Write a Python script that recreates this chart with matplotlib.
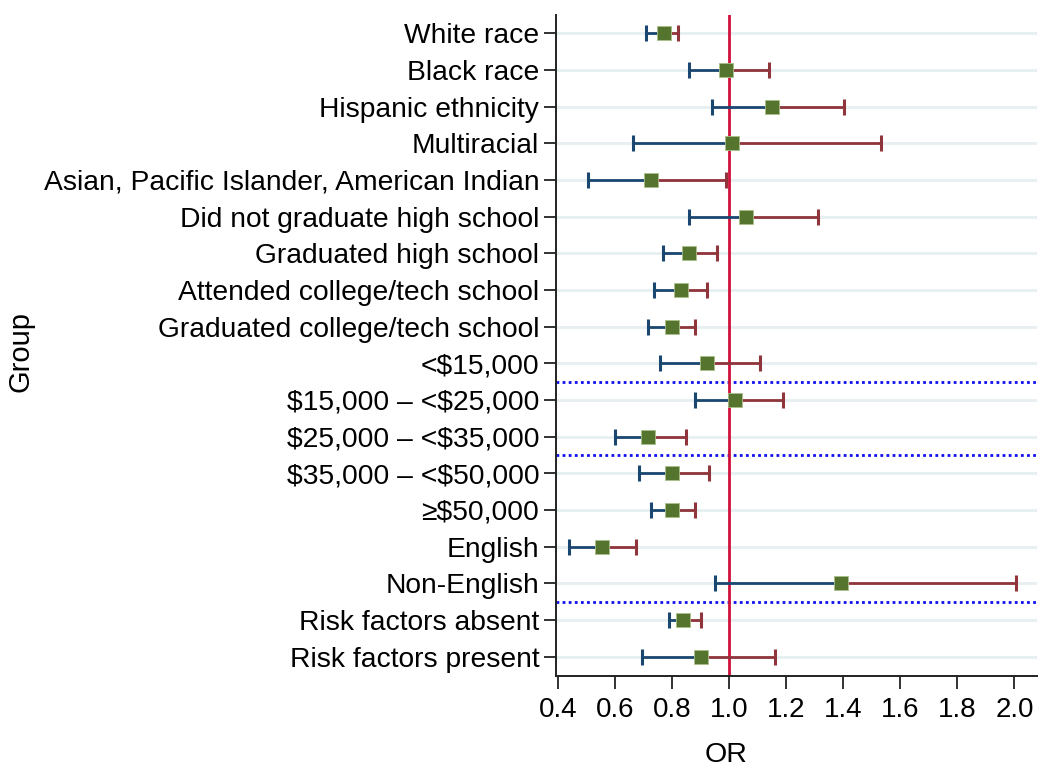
import matplotlib
matplotlib.use("Agg")
import matplotlib.pyplot as plt

groups = ["White race", "Black race", "Hispanic ethnicity", "Multiracial",
          "Asian, Pacific Islander, American Indian", "Did not graduate high school",
          "Graduated high school", "Attended college/tech school",
          "Graduated college/tech school", "<$15,000", "$15,000 \u2013 <$25,000",
          "$25,000 \u2013 <$35,000", "$35,000 \u2013 <$50,000", "\u2265$50,000",
          "English", "Non-English", "Risk factors absent", "Risk factors present"]
odds_ratio = [0.770, 0.989, 1.149, 1.010, 0.726, 1.060, 0.861, 0.831, 0.801,
              0.921, 1.019, 0.716, 0.801, 0.801, 0.555, 1.392, 0.839, 0.900]
ci_lower = [0.707, 0.861, 0.941, 0.662, 0.507, 0.861, 0.768, 0.738, 0.716,
            0.757, 0.879, 0.600, 0.685, 0.726, 0.437, 0.951, 0.789, 0.695]
ci_upper = [0.821, 1.138, 1.401, 1.534, 0.989, 1.310, 0.959, 0.921, 0.879,
            1.109, 1.189, 0.849, 0.930, 0.879, 0.675, 2.005, 0.900, 1.160]
separators = [9.5, 11.5, 15.5]
x_ticks = [0.4, 0.6, 0.8, 1.0, 1.2, 1.4, 1.6, 1.8, 2.0]

plt.rcParams['font.family'] = ['Liberation Sans', 'DejaVu Sans']
plt.rcParams['text.parse_math'] = False

BLUE = "#1a476f"
RED = "#90353b"
GREEN = "#55752f"

fig = plt.figure(figsize=(10.5, 7.69), dpi=100)
ax = fig.add_axes([0.5295, 0.1209, 0.9876 - 0.5295, 0.9805 - 0.1209])

ys = list(range(len(groups)))
for y in ys:
    ax.axhline(y, color="#e6eff1", lw=2, zorder=0)

for s in separators:
    ax.axhline(s, color="#1010ee", lw=2, ls=(0, (1, 1.2)), zorder=1)

ax.axvline(1.0, color="#d0103a", lw=2, zorder=2)

ax.hlines(ys, ci_lower, odds_ratio, color=BLUE, lw=2, zorder=3)
ax.hlines(ys, odds_ratio, ci_upper, color=RED, lw=2, zorder=3)
ax.plot(ci_lower, ys, ls="none", marker="|", ms=11, mew=2.2, color=BLUE, zorder=3)
ax.plot(ci_upper, ys, ls="none", marker="|", ms=11, mew=2.2, color=RED, zorder=3)
ax.plot(odds_ratio, ys, ls="none", marker="s", ms=10.5, mfc=GREEN,
        mec="#a9c08a", mew=0.6, zorder=4)

ax.set_ylim(len(groups) - 0.47, -0.5)
ax.set_xlim(0.393, 2.079)
ax.set_yticks(ys)
ax.set_yticklabels(groups, fontsize=20.3)
ax.set_xticks(x_ticks)
ax.set_xticklabels([f"{t:.1f}" for t in x_ticks], fontsize=20)
ax.tick_params(axis="both", length=9, width=1.3, color="#222222", pad=3)
ax.tick_params(axis="x", pad=6)

for side in ["top", "right"]:
    ax.spines[side].set_visible(False)
for side in ["left", "bottom"]:
    ax.spines[side].set_linewidth(1.4)
    ax.spines[side].set_color("#222222")

ax.set_xlabel("OR", fontsize=20.5)
ax.xaxis.set_label_coords((726 - 556) / (1037 - 556), (676 - 742) / (676 - 15))

fig.text(21 / 1050, 1 - 351 / 769, "Group", rotation=90, fontsize=21,
         ha="center", va="center")

fig.savefig("out.png", dpi=100, facecolor="white")
